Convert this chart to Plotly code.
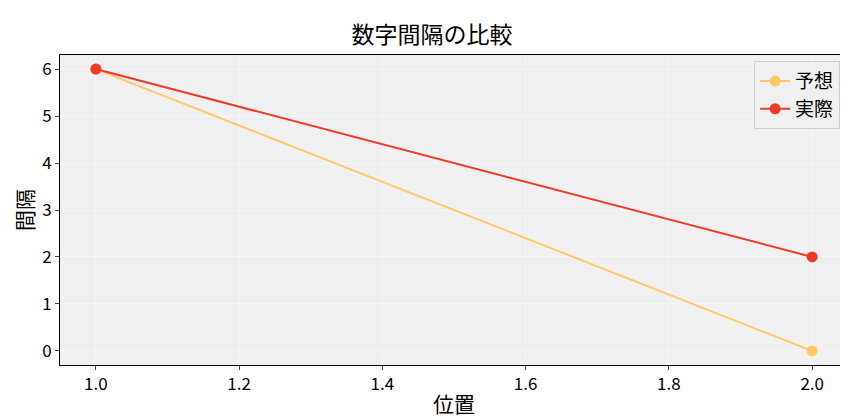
import plotly.graph_objects as go

x = [1.0, 2.0]
expected = [6, 0]
actual = [6, 2]
font = "Noto Sans CJK JP"

fig = go.Figure()
fig.add_trace(go.Scatter(x=x, y=expected, name="予想", mode="lines+markers",
                         line=dict(color="#FFC864", width=2), marker=dict(size=11)))
fig.add_trace(go.Scatter(x=x, y=actual, name="実際", mode="lines+markers",
                         line=dict(color="#EE3A29", width=2), marker=dict(size=11)))
fig.update_layout(
    width=848, height=416, margin=dict(l=52, r=8, t=47, b=59, autoexpand=False),
    paper_bgcolor="white", plot_bgcolor="#F0F0F0",
    font=dict(family=font, size=17, color="black"),
    title=dict(text="数字間隔の比較", x=0.5, xanchor="center", y=0.955, font=dict(size=23)),
    xaxis=dict(title=dict(text="位置", font=dict(size=21), standoff=2), range=[0.95, 2.05], automargin=False,
               tickvals=[1.0, 1.2, 1.4, 1.6, 1.8, 2.0], ticktext=["1.0", "1.2", "1.4", "1.6", "1.8", "2.0"],
               showgrid=True, gridcolor="#F6F6F6", zeroline=False, showline=True, linecolor="black",
               mirror=True, ticks="outside", ticklen=4),
    yaxis=dict(title=dict(text="間隔", font=dict(size=21), standoff=2), range=[-0.3, 6.3], dtick=1, automargin=False,
               showgrid=True, gridcolor="#F6F6F6", zeroline=False, showline=True, linecolor="black",
               mirror=True, ticks="outside", ticklen=4),
    legend=dict(x=0.99, y=0.98, xanchor="right", yanchor="top", bgcolor="rgba(240,240,240,0.8)",
                bordercolor="#CCCCCC", borderwidth=1, font=dict(size=19)),
)
fig.write_html("out.html")
